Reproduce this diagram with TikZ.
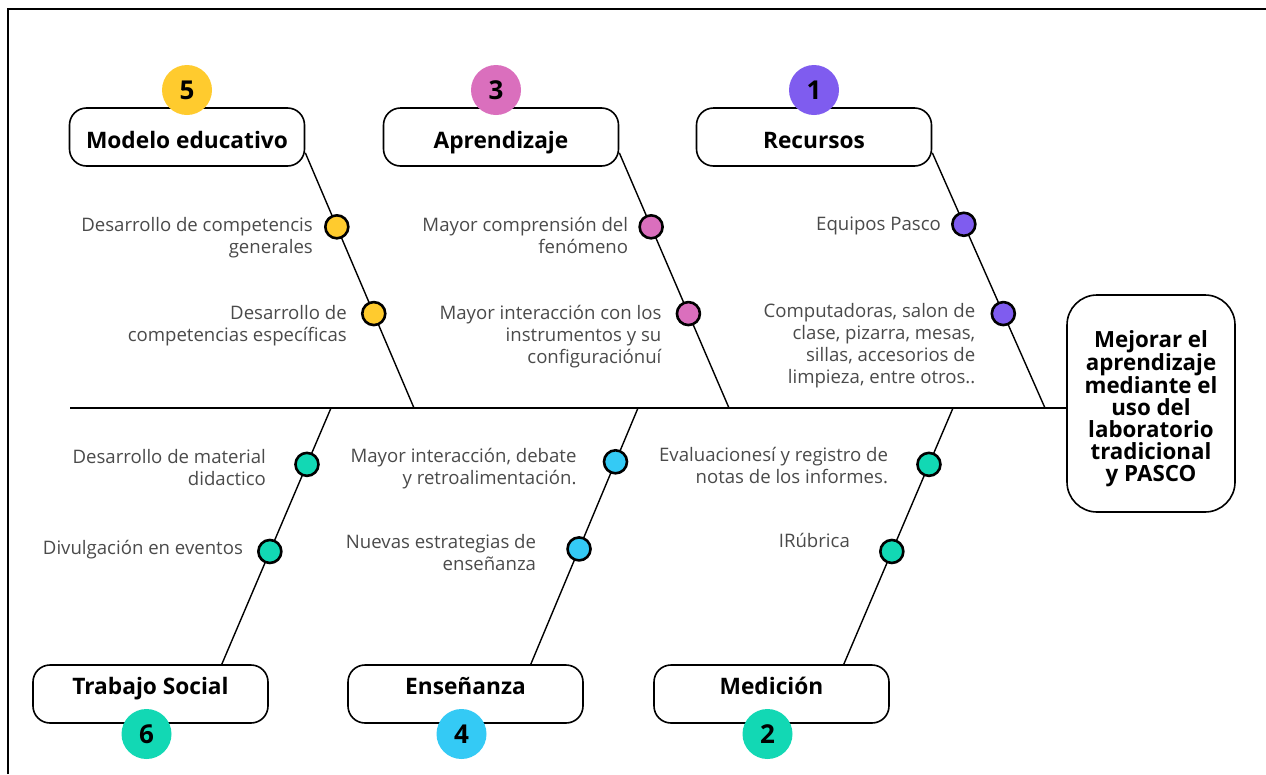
\documentclass[tikz,border=0pt]{standalone}
\usepackage{fontspec}
\setmainfont{Open Sans}
\usetikzlibrary{positioning,calc}

\definecolor{cYel}{HTML}{FFCB2E}
\definecolor{cPink}{HTML}{DA6FBD}
\definecolor{cPurp}{HTML}{7F5CEF}
\definecolor{cTeal}{HTML}{12D8B4}
\definecolor{cBlue}{HTML}{34CAF5}
\definecolor{lblgray}{HTML}{4A4A4A}

\begin{document}
\begin{tikzpicture}[x=1pt, y=-1pt,
	cat/.style={draw, line width=1.6pt, rounded corners=17pt, fill=white,
		minimum width=235pt, minimum height=58pt, inner sep=0pt,
		font=\fontsize{22.7}{24}\selectfont\bfseries},
	cattop/.style={cat, text height=22pt, text depth=0pt},
	catbot/.style={cat, text height=16pt, text depth=16pt},
	goal/.style={draw, line width=1.6pt, rounded corners=30pt, fill=white,
		minimum width=168pt, minimum height=217pt, inner sep=0pt, align=center,
		font=\fontsize{22.3}{22}\selectfont\bfseries},
	num/.style={circle, inner sep=0pt, minimum size=50pt,
		font=\fontsize{26}{26}\selectfont\bfseries},
	dot/.style={circle, draw, line width=2.6pt, fill=#1, minimum size=23pt, inner sep=0pt},
	lbl/.style={align=right, inner sep=0pt, anchor=base east, text=lblgray,
		font=\fontsize{18.6}{22}\selectfont},
	bone/.style={line width=1.4pt},
	spine/.style={line width=1.8pt}]
	\useasboundingbox (0,0) rectangle (1266,774);
	\draw[line width=2pt] (8,774) -- (8,9) -- (1266,9);

	% head and categories
	\node[goal] (goal) at (1151,403.5) {\rule{0pt}{27pt}Mejorar el\\aprendizaje\\mediante el\\uso del\\laboratorio\\tradicional\\y PASCO};
	\node[cattop] (m5) at (187,137) {Modelo educativo};
	\node[cattop] (a3) at (501,137) {Aprendizaje};
	\node[cattop] (r1) at (814,137) {Recursos};
	\node[catbot] (t6) at (150.5,694) {Trabajo Social};
	\node[catbot] (e4) at (465.5,694) {Enseñanza};
	\node[catbot] (m2) at (771.5,694) {Medición};

	% spine
	\coordinate (tail) at (70,408);
	\draw[spine] (tail) -- (tail -| goal.west);

	% bones
	\draw[bone] ($(m5.south east)+(0,-14)$) -- (414,408)
		node[dot=cYel, pos=.29] (d5a) {} node[dot=cYel, pos=.63] (d5b) {};
	\draw[bone] ($(a3.south east)+(0,-14)$) -- (729,408)
		node[dot=cPink, pos=.29] (d3a) {} node[dot=cPink, pos=.63] (d3b) {};
	\draw[bone] ($(r1.south east)+(0,-14)$) -- (1045,408)
		node[dot=cPurp, pos=.28] (d1a) {} node[dot=cPurp, pos=.63] (d1b) {};
	\draw[bone] (331,408) -- ($(t6.north east)+(-47,0)$)
		node[dot=cTeal, pos=.22] (d6a) {} node[dot=cTeal, pos=.56] (d6b) {};
	\draw[bone] (638,408) -- ($(e4.north east)+(-53,0)$)
		node[dot=cBlue, pos=.21] (d4a) {} node[dot=cBlue, pos=.55] (d4b) {};
	\draw[bone] (953,408) -- ($(m2.north east)+(-46,0)$)
		node[dot=cTeal, pos=.22] (d2a) {} node[dot=cTeal, pos=.56] (d2b) {};

	% numbers
	\node[num, fill=cYel, above=-8pt of m5] (n5) {5};
	\node[num, fill=cPink, above=-8pt of a3, xshift=-5pt] (n3) {3};
	\node[num, fill=cPurp, above=-8pt of r1] (n1) {1};
	\node[num, fill=cTeal, below=-15pt of t6, xshift=-4pt] (n6) {6};
	\node[num, fill=cBlue, below=-15pt of e4, xshift=-4pt] (n4) {4};
	\node[num, fill=cTeal, below=-15pt of m2, xshift=-4pt] (n2) {2};

	% causes (base is the last line)
	\node[lbl] (l5a) at ($(d5a.west)+(-11,27)$) {Desarrollo de competencis\\generales};
	\node[lbl] (l5b) at ($(d5b.west)+(-14,28)$) {Desarrollo de\\competencias específicas};
	\node[lbl] (l3a) at ($(d3a.west)+(-10,27)$) {Mayor comprensión del\\fenómeno};
	\node[lbl] (l3b) at ($(d3b.west)+(-14,50)$) {Mayor interacción con los\\instrumentos y su\\configuraciónuí};
	\node[lbl] (l1a) at ($(d1a.west)+(-10,6)$) {Equipos Pasco};
	\node[lbl] (l1b) at ($(d1b.west)+(-15,70)$) {Computadoras, salon de\\clase, pizarra, mesas,\\sillas, accesorios de\\limpieza, entre otros..};
	\node[lbl] (l6a) at ($(d6a.west)+(-28,21)$) {Desarrollo de material\\didactico};
	\node[lbl] (l6b) at ($(d6b.west)+(-14,3)$) {Divulgación en eventos};
	\node[lbl] (l4a) at ($(d4a.west)+(-26,23)$) {Mayor interacción, debate\\y retroalimentación.};
	\node[lbl] (l4b) at ($(d4b.west)+(-30,22)$) {Nuevas estrategias de\\enseñanza};
	\node[lbl] (l2a) at ($(d2a.west)+(-28,19)$) {Evaluacionesí y registro de\\notas de los informes.};
	\node[lbl] (l2b) at ($(d2b.west)+(-29,-4)$) {IRúbrica};
\end{tikzpicture}
\end{document}
